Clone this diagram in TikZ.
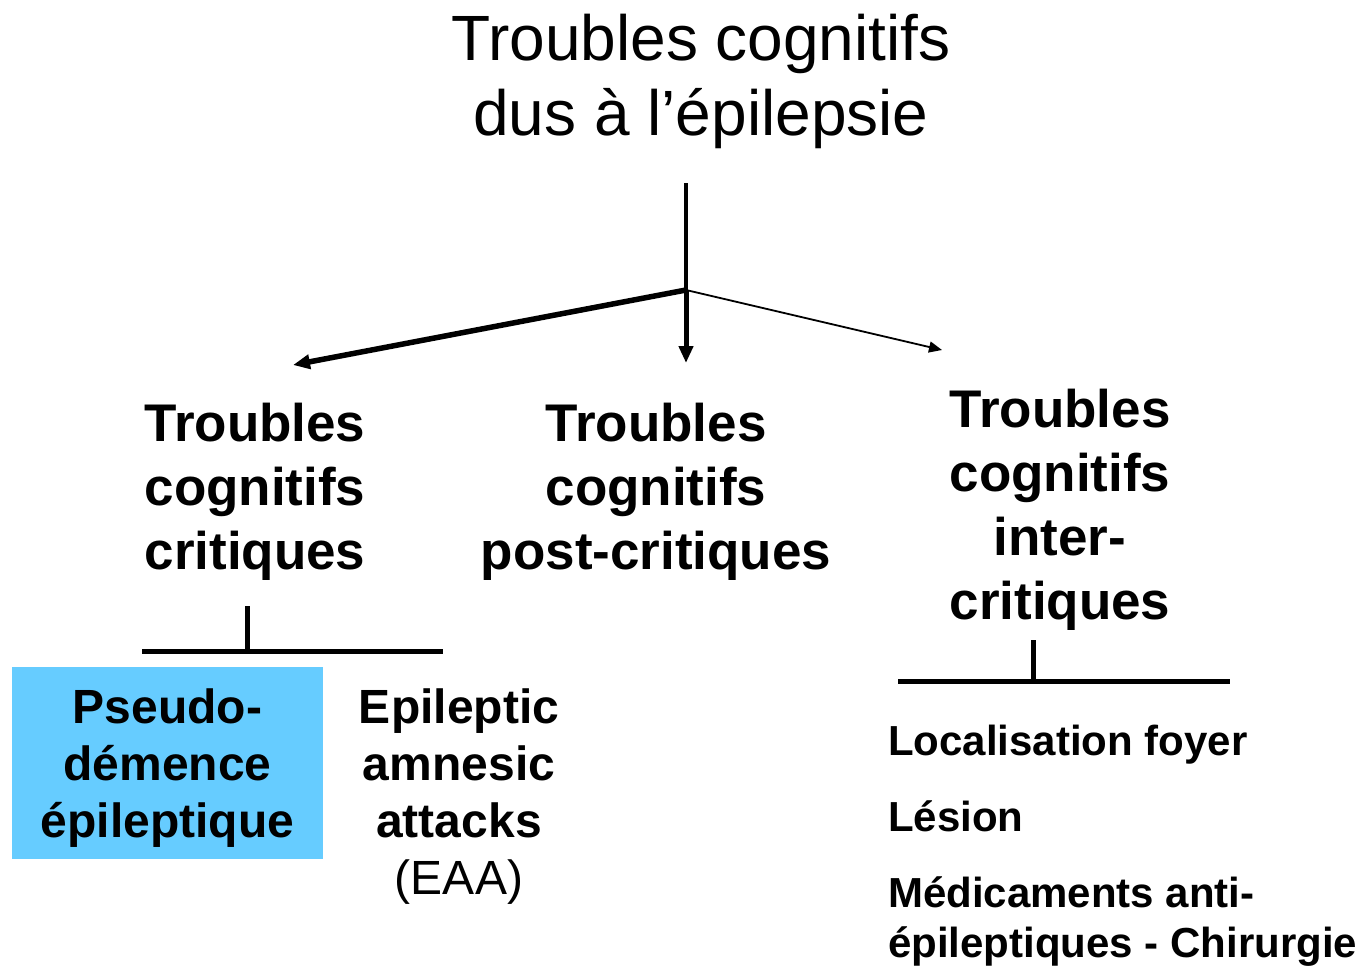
\documentclass[tikz,border=0pt]{standalone}
\usepackage{fontspec}
\setmainfont{Liberation Sans}
\usetikzlibrary{arrows.meta}
\definecolor{boxblue}{HTML}{66CCFF}
\tikzset{
  bigtitle/.style={font=\fontsize{64}{75}\selectfont, align=center, inner sep=0pt},
  branch/.style={font=\bfseries\fontsize{53}{64}\selectfont, align=center, inner sep=0pt},
  leaf/.style={font=\bfseries\fontsize{48}{57}\selectfont, align=center, inner sep=0pt},
  factors/.style={font=\bfseries\fontsize{42}{50}\selectfont, align=left, inner sep=0pt},
  tee/.style={line width=5pt},
  bigarrow/.style={-{Triangle[length=17pt,width=14pt]}},
}

\begin{document}
\begin{tikzpicture}[x=1pt,y=-1pt]
  \useasboundingbox (0,0) rectangle (1368,967);

  % title
  \node[bigtitle] (title) at (701,81) {Troubles cognitifs\\dus à l’épilepsie};

  \coordinate (stem) at (686,183);
  \coordinate (split) at (686,290);
  \coordinate (endL) at (293,365);
  \coordinate (endM) at (686,363);
  \coordinate (endR) at (942,350);

  % the three branches
  \node[branch] (crit) at (255,492) {Troubles\\cognitifs\\critiques};
  \node[branch] (post) at (656,492) {Troubles\\cognitifs\\post-critiques};
  \node[branch] (inter) at (1060,510) {Troubles\\cognitifs\\inter-\\critiques};

  \draw[line width=4.5pt] (stem) -- (split);
  \draw[line width=5.5pt, bigarrow] (split) -- (endL);
  \draw[line width=5pt, bigarrow] (split) -- (endM);
  \draw[line width=1.8pt, -{Triangle[length=13pt,width=11pt]}] (split) -- (endR);

  % left tee
  \coordinate (lTop) at (247,606);
  \coordinate (lMid) at (247,651);
  \coordinate (lA) at (142,651);
  \coordinate (lB) at (443,651);
  \draw[tee] (lTop) -- (lMid);
  \draw[tee] (lA) -- (lB);

  \node[leaf, fill=boxblue, minimum width=311pt, minimum height=192pt, text depth=0pt] (pseudo) at (167.5,763)
    {Pseudo-\\démence\\épileptique};
  \node[leaf] (eaa) at (459,797) {Epileptic\\amnesic\\attacks\\\mdseries(EAA)};

  % right tee
  \coordinate (rTop) at (1033,640);
  \coordinate (rMid) at (1033,681);
  \coordinate (rA) at (898,681);
  \coordinate (rB) at (1230,681);
  \draw[tee] (rTop) -- (rMid);
  \draw[tee] (rA) -- (rB);

  \node[factors, anchor=west] (causes) at (888,846)
    {Localisation foyer\\[26pt]Lésion\\[26pt]Médicaments anti-\\épileptiques - Chirurgie};
\end{tikzpicture}
\end{document}
